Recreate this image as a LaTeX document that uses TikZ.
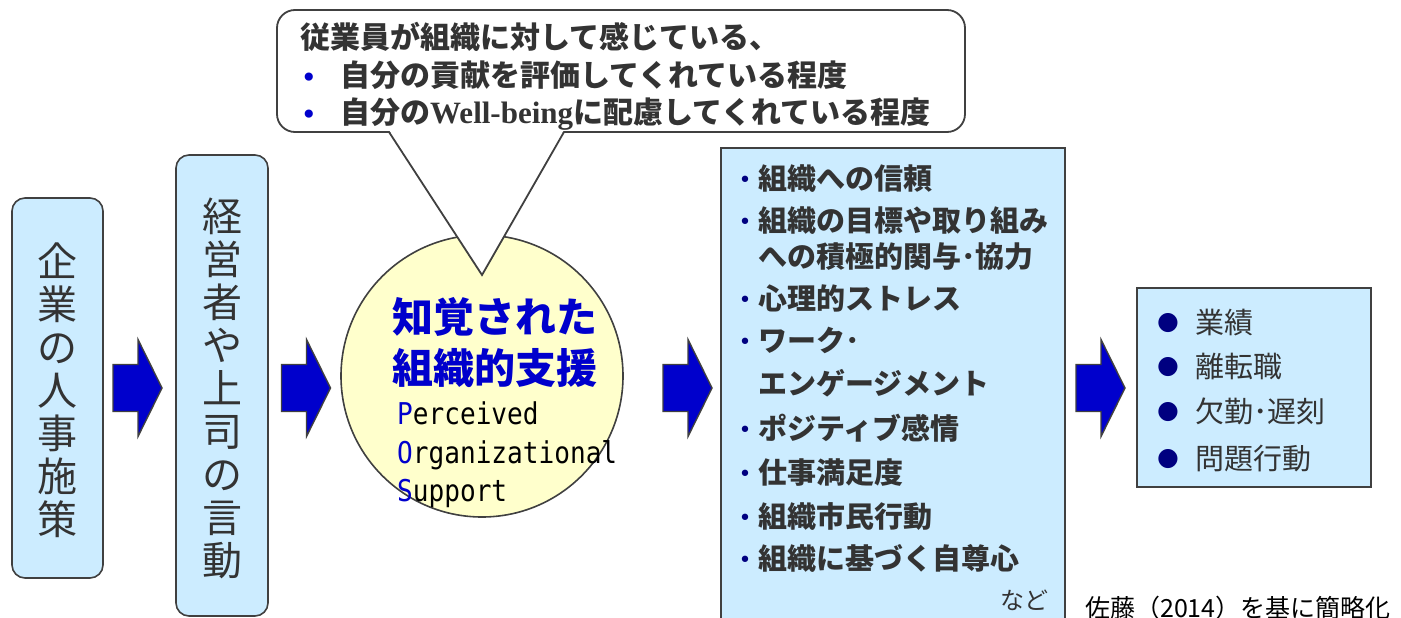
\documentclass[tikz,border=0pt]{standalone}
\usepackage{fontspec}
\newfontfamily\jp{Noto Sans CJK JP}
\newfontfamily\serifb{Liberation Serif}
\newfontfamily\monof{DejaVu Sans Mono}[FakeStretch=0.87]
\newfontfamily\dvs{DejaVu Sans}
\definecolor{boxblue}{HTML}{CCECFF}
\definecolor{linegray}{HTML}{404040}
\definecolor{arrowblue}{HTML}{0000CC}
\definecolor{circfill}{HTML}{FFFFCC}
\definecolor{titleblue}{HTML}{0000CC}
\definecolor{navy}{HTML}{000080}
\definecolor{textdark}{HTML}{333333}
\begin{document}
\begin{tikzpicture}[x=1pt,y=-1pt,
  lbox/.style={draw=linegray, line width=1.6pt, fill=boxblue, inner sep=0pt},
  vtext/.style={font=\jp\fontsize{40}{#1}\selectfont, text=textdark, align=center, inner sep=0pt},
  jpb/.style={font=\jp\bfseries\fontsize{29}{34}\selectfont, text=textdark, inner sep=0pt, anchor=base west},
  jpc/.style={font=\jp\bfseries\fontsize{30}{34}\selectfont, text=textdark, inner sep=0pt, anchor=base west},
  jpr/.style={font=\jp\fontsize{29}{34}\selectfont, text=textdark, inner sep=0pt, anchor=base west},
  cbul/.style={font=\dvs\fontsize{28}{30}\selectfont, text=titleblue, inner sep=0pt, anchor=center},
  sbul/.style={font=\dvs\fontsize{22}{24}\selectfont, text=navy, inner sep=0pt, anchor=center},
  rbul/.style={font=\dvs\fontsize{25}{28}\selectfont, text=navy, inner sep=0pt, anchor=center},
  title/.style={font=\jp\bfseries\fontsize{41}{48}\selectfont, text=titleblue, inner sep=0pt, anchor=base},
  monot/.style={font=\monof\fontsize{30}{34}\selectfont, text=black, inner sep=0pt, anchor=base west},
  barrow/.pic={\draw[fill=arrowblue, draw=linegray, line width=1.4pt, line join=miter]
     (-24.5,-23.5) -- (0.5,-23.5) -- (0.5,-48.5) -- (24.5,0) -- (0.5,48.5) -- (0.5,23.5) -- (-24.5,23.5) -- cycle;}
]
\useasboundingbox (0,0) rectangle (1401,618);
\fill[white] (0,0) rectangle (1401,618);

% boxes
\node[lbox, rounded corners=13pt, minimum width=91pt, minimum height=380pt] (b1) at (57.5,388) {};
\node[lbox, rounded corners=13pt, minimum width=92pt, minimum height=461pt] (b2) at (222,385.5) {};
\node[lbox, rectangle, minimum width=344pt, minimum height=492pt] (b3) at (893,394) {};
\node[lbox, rectangle, minimum width=234pt, minimum height=199pt] (b4) at (1254,387.5) {};

% arrows
\pic (a1) at (137.5,388) {barrow};
\pic (a2) at (306,388) {barrow};
\pic (a3) at (687.5,388) {barrow};
\pic (a4) at (1100.5,388) {barrow};

% circle
\node[circle, draw=linegray, line width=1.6pt, fill=circfill, minimum size=282pt, inner sep=0pt] (pos) at (482,376) {};

% callout
\node[draw=linegray, line width=1.8pt, fill=white, rounded corners=18pt, minimum width=688pt, minimum height=122pt, inner sep=0pt] (callout) at (621,71) {};
\coordinate (pl) at (389,132);
\coordinate (pr) at (564,132);
\coordinate (tip) at (482,275);
\fill[white] (389,130) -- (tip) -- (564,130) -- cycle;
\draw[linegray, line width=1.8pt, line join=miter] (pl) -- (tip) -- (pr);

% callout text
\node[jpc] (c1) at (300,49) {従業員が組織に対して感じている、};
\node[cbul] (cb2) at (309,80) {•};
\node[jpc] (c2) at (340,87) {自分の貢献を評価してくれている程度};
\node[cbul] (cb3) at (309,117) {•};
\node[jpc] (c3) at (340,124) {自分の{\serifb\bfseries\fontsize{31}{34}\selectfont Well-being}に配慮してくれている程度};

% vertical texts
\node[vtext=43pt] (t1) at (57,390.5) {企\\業\\の\\人\\事\\施\\策};
\node[vtext=43pt] (t2) at (222,388.5) {経\\営\\者\\や\\上\\司\\の\\言\\動};

% circle text
\node[title] (ct1) at (495,332) {知覚された};
\node[title] (ct2) at (495,383) {組織的支援};
\node[monot] (m1) at (397,424) {\textcolor{titleblue}{P}erceived};
\node[monot] (m2) at (397,463) {\textcolor{titleblue}{O}rganizational};
\node[monot] (m3) at (397,501) {\textcolor{titleblue}{S}upport};

% box3 list
\node[sbul] (d1) at (745,182) {•};
\node[jpb] (e1) at (758,189) {組織への信頼};
\node[sbul] (d2) at (745,224) {•};
\node[jpb] (e2) at (758,231) {組織の目標や取り組み};
\node[jpb] (e2b) at (758,267) {への積極的関与･協力};
\node[sbul] (d3) at (745,302) {•};
\node[jpb] (e3) at (758,309) {心理的ストレス};
\node[sbul] (d4) at (745,344) {•};
\node[jpb] (e4) at (758,351) {ワーク･};
\node[jpb] (e4b) at (758,394) {エンゲージメント};
\node[sbul] (d5) at (745,432) {•};
\node[jpb] (e5) at (758,439) {ポジティブ感情};
\node[sbul] (d6) at (745,476) {•};
\node[jpb] (e6) at (758,483) {仕事満足度};
\node[sbul] (d7) at (745,520) {•};
\node[jpb] (e7) at (758,527) {組織市民行動};
\node[sbul] (d8) at (745,562) {•};
\node[jpb] (e8) at (758,569) {組織に基づく自尊心};
\node[font=\jp\fontsize{24}{28}\selectfont, text=textdark, inner sep=0pt, anchor=base west] (nado) at (1000,609) {など};

% box4 list
\node[rbul] (f1) at (1168,323) {●};
\node[jpr] (g1) at (1195,333) {業績};
\node[rbul] (f2) at (1168,367) {●};
\node[jpr] (g2) at (1195,377) {離転職};
\node[rbul] (f3) at (1168,412) {●};
\node[jpr] (g3) at (1195,422) {欠勤･遅刻};
\node[rbul] (f4) at (1168,459) {●};
\node[jpr] (g4) at (1195,469) {問題行動};

% caption
\node[font=\jp\fontsize{25}{28}\selectfont, text=black, inner sep=0pt, anchor=base west] (cap) at (1085,617) {佐藤（2014）を基に簡略化};
\end{tikzpicture}
\end{document}
